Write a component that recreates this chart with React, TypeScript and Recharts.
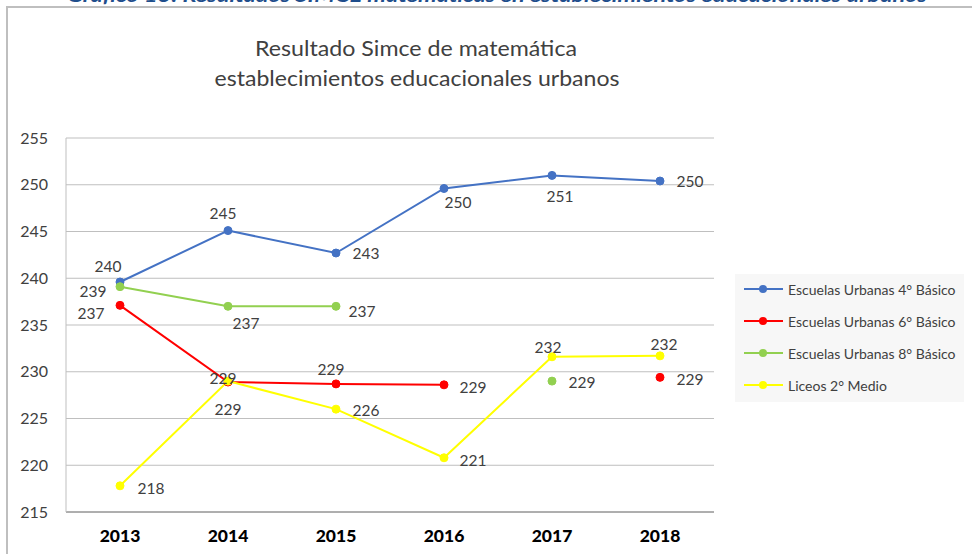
import React from 'react';
import { LineChart, Line, XAxis, YAxis, CartesianGrid, LabelList } from 'recharts';

const years = ['2013', '2014', '2015', '2016', '2017', '2018'];
const basico4 = [239.6, 245.1, 242.7, 249.6, 251.0, 250.4];
const basico6 = [237.1, 228.9, 228.7, 228.6, null, 229.4];
const basico8 = [239.1, 237.0, 237.0, null, 229.0, null];
const medio2 = [217.8, 229.0, 226.0, 220.8, 231.6, 231.7];
const yTicks = [215, 220, 225, 230, 235, 240, 245, 250, 255];

const seriesNames = [
  'Escuelas Urbanas 4° Básico',
  'Escuelas Urbanas 6° Básico',
  'Escuelas Urbanas 8° Básico',
  'Liceos 2° Medio',
];
const colors = ['#4472c4', '#ff0000', '#92d050', '#ffff00'];

// where each data label sits relative to its point (dx, dy to text centre)
const labelOffsets: [number, number][][] = [
  [[-12, -16], [-5, -18], [30, 0], [14, 14], [8, 21], [30, 0]],
  [[-29, 8], [-5, -4], [-5, -15], [29, 2], [0, 0], [30, 2]],
  [[-27, 4], [18, 17], [26, 5], [0, 0], [30, 1], [0, 0]],
  [[31, 2], [0, 28], [30, 1], [29, 2], [-4, -10], [4, -12]],
];

const font = 'Lato, "Open Sans", sans-serif';

const makeLabel = (offs: [number, number][]) => (props: any) => {
  const { x, y, value, index } = props;
  if (value == null || x == null || y == null) return null;
  const [dx, dy] = offs[index] || [0, 0];
  return (
    <text
      x={x + dx}
      y={y + dy}
      textAnchor="middle"
      dominantBaseline="central"
      fontSize={15.5}
      fill="#404040"
      fontFamily={font}
    >
      {Math.round(value)}
    </text>
  );
};

export default function App() {
  const data = years.map((year, i) => ({
    year,
    b4: basico4[i],
    b6: basico6[i],
    b8: basico8[i],
    m2: medio2[i],
  }));
  const keys = ['b4', 'b6', 'b8', 'm2'];

  return (
    <div
      style={{
        position: 'absolute',
        left: 0,
        top: 0,
        width: 972,
        height: 554,
        overflow: 'hidden',
        background: '#fff',
        fontFamily: font,
      }}
    >
      <svg width={972} height={554} style={{ position: 'absolute', left: 0, top: 0 }}>
        <text
          x={497}
          y={2}
          textAnchor="middle"
          fontStyle="italic"
          fontWeight="bold"
          fontSize={19}
          fill="#1f4e8c"
          textLength={860}
          lengthAdjust="spacingAndGlyphs"
          fontFamily={font}
        >
          Gráfico 13: Resultados SIMCE matemáticas en establecimientos educacionales urbanos
        </text>
        <rect x={7} y={7} width={1000} height={600} fill="none" stroke="#bfbfbf" strokeWidth={2} />
        <text x={416} y={47} textAnchor="middle" dominantBaseline="central" fontSize={22} fill="#404040"
          fontFamily={font} textLength={322} lengthAdjust="spacingAndGlyphs">
          Resultado Simce de matemática
        </text>
        <text x={417} y={77} textAnchor="middle" dominantBaseline="central" fontSize={22} fill="#404040"
          fontFamily={font} textLength={405} lengthAdjust="spacingAndGlyphs">
          establecimientos educacionales urbanos
        </text>
        <rect x={735} y={274} width={229} height={128} fill="#f7f7f7" />
        {seriesNames.map((name, i) => {
          const cy = 289 + i * 32;
          return (
            <g key={name}>
              <line x1={744} x2={783} y1={cy} y2={cy} stroke={colors[i]} strokeWidth={2} />
              <circle cx={763} cy={cy} r={4} fill={colors[i]} />
              <text x={788} y={cy} dominantBaseline="central" fontSize={14} fill="#404040" fontFamily={font}>
                {name}
              </text>
            </g>
          );
        })}
      </svg>
      <div style={{ position: 'absolute', left: 0, top: 0 }}>
        <LineChart width={972} height={554} data={data} margin={{ top: 138, right: 258, bottom: 12, left: 6 }}>
          <CartesianGrid vertical={false} stroke="#bfbfbf" />
          <XAxis
            dataKey="year"
            height={30}
            padding={{ left: 54, right: 54 }}
            axisLine={{ stroke: '#7f7f7f' }}
            tickLine={false}
            tickSize={0}
            tickMargin={18}
            tick={{ fill: '#000', fontSize: 17.5, fontWeight: 900, fontFamily: font }}
          />
          <YAxis
            width={60}
            domain={[215, 255]}
            ticks={yTicks}
            axisLine={{ stroke: '#bfbfbf' }}
            tickLine={false}
            tickSize={0}
            tickMargin={18}
            tick={{ fill: '#404040', fontSize: 16, fontFamily: font }}
          />
          {keys.map((k, i) => (
            <Line
              key={k}
              dataKey={k}
              name={seriesNames[i]}
              type="linear"
              stroke={colors[i]}
              strokeWidth={2}
              dot={{ r: 4, fill: colors[i], stroke: colors[i], strokeWidth: 1 }}
              activeDot={false}
              connectNulls={false}
              isAnimationActive={false}
            >
              <LabelList dataKey={k} content={makeLabel(labelOffsets[i])} />
            </Line>
          ))}
        </LineChart>
      </div>
    </div>
  );
}
